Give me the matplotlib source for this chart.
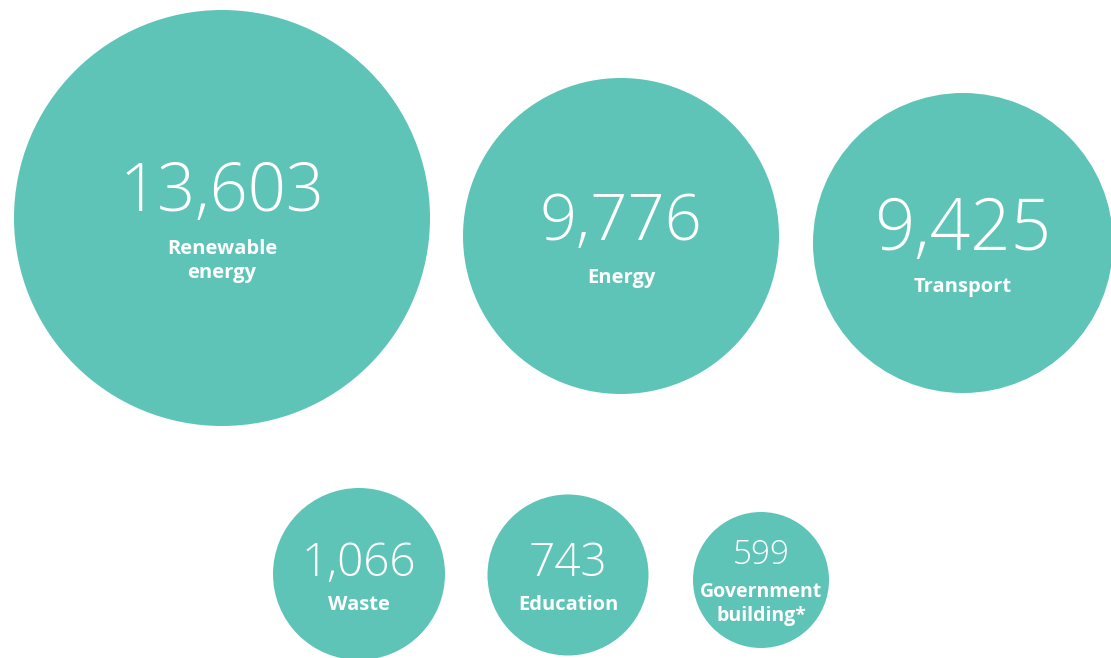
import matplotlib
matplotlib.use("Agg")
import matplotlib.pyplot as plt
from matplotlib.patches import Circle

# Data
categories = ["Renewable\nenergy", "Energy", "Transport", "Waste", "Education", "Government\nbuilding*"]
values = [13603, 9776, 9425, 1066, 743, 599]

# Layout (pixel coordinates, sizes)
centers = [(222, 218), (621, 236), (963, 243), (359, 574), (568, 575), (761, 580)]
radii = [208, 158, 150, 86, 80.5, 68]
num_y = [194, 224, 231, 564, 564, 555]
lab_y = [261, 278, 287, 605, 605, 604]
num_size = [48, 47, 51, 33, 33, 24]
lab_size = [14.5, 14.5, 14.5, 14.5, 14.5, 14]

color = "#5EC4B8"

fig = plt.figure(figsize=(11.11, 6.58), dpi=100)
ax = fig.add_axes([0, 0, 1, 1])
ax.set_xlim(0, 1111)
ax.set_ylim(658, 0)
ax.set_aspect("equal")
ax.axis("off")

for cat, v, c, r, ny, ly, ns, ls in zip(categories, values, centers, radii, num_y, lab_y, num_size, lab_size):
    ax.add_patch(Circle(c, r, color=color, lw=0))
    ax.text(c[0], ny, f"{v:,}", ha="center", va="center", color="white",
            fontsize=ns, family=["Open Sans", "DejaVu Sans"], fontweight="light")
    ax.text(c[0], ly, cat, ha="center", va="center", color="white",
            fontsize=ls, family=["Open Sans", "DejaVu Sans"], fontweight="bold",
            linespacing=1.25)

fig.savefig("out.png", dpi=100)
